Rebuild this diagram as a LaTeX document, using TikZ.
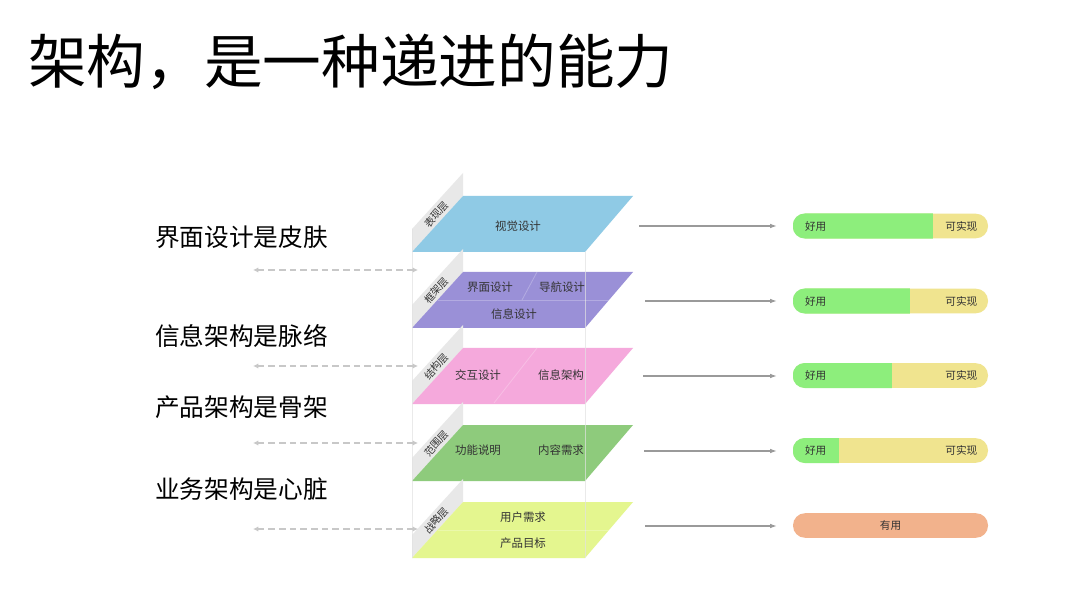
\documentclass[tikz,border=0pt]{standalone}
\usepackage{fontspec}
\setmainfont{Noto Sans CJK SC}
\usetikzlibrary{arrows.meta,calc}
\definecolor{LayerBlue}{HTML}{8FCAE5}
\definecolor{LayerPurple}{HTML}{9A90D7}
\definecolor{LayerPink}{HTML}{F5A9DC}
\definecolor{LayerGreen}{HTML}{8ECB7C}
\definecolor{LayerLime}{HTML}{E4F68F}
\definecolor{SideGray}{HTML}{E8E8E8}
\definecolor{FrameGray}{HTML}{E2E2E2}
\definecolor{FlowGray}{HTML}{9A9A9A}
\definecolor{LinkGray}{HTML}{C8C8C8}
\definecolor{BarGreen}{HTML}{8DEE7C}
\definecolor{BarYellow}{HTML}{F0E48F}
\definecolor{BarOrange}{HTML}{F2B28C}
\definecolor{TextDark}{HTML}{333333}

\begin{document}
\begin{tikzpicture}[x=0.75pt, y=-0.75pt, >=Latex,
    titletext/.style={font=\fontsize{44}{50}\selectfont, anchor=west, inner sep=0pt},
    bigtext/.style={font=\fontsize{18.5}{22}\selectfont, anchor=west, inner sep=0pt},
    layertext/.style={font=\fontsize{8.6}{10}\selectfont, text=TextDark, inner sep=0pt},
    sidetext/.style={font=\fontsize{7.6}{8}\selectfont, text=TextDark, rotate=47.7, inner sep=0pt},
    bartext/.style={font=\fontsize{8}{10}\selectfont, text=TextDark, inner sep=0pt},
    barbase/.style={fill=BarYellow, rounded corners=9pt, minimum width=146.25pt, minimum height=18.4pt, inner sep=0pt},
    flow/.style={-{Latex[length=5pt,width=3.5pt]}, draw=FlowGray, line width=0.8pt, shorten >=12pt},
    link/.style={{Latex[length=4pt,width=4pt]}-{Latex[length=4pt,width=4pt]}, draw=LinkGray, line width=1.3pt, dash pattern=on 5pt off 3pt},
    divider/.style={draw=white, opacity=0.25, line width=0.6pt}]
  \useasboundingbox[fill=white] (0,0) rectangle (1082,595);

  % Title and the four statements on the left
  \node[titletext] (title) at (28,62) {架构，是一种递进的能力};
  \node[bigtext] (skin)  at (155,237)   {界面设计是皮肤};
  \node[bigtext] (vein)  at (155,336)   {信息架构是脉络};
  \node[bigtext] (bone)  at (155,407.5) {产品架构是骨架};
  \node[bigtext] (heart) at (155,489)   {业务架构是心脏};

  % Five stacked planes with their side tabs
  \foreach \i/\t/\col/\side in {1/196/LayerBlue/表现层, 2/272/LayerPurple/框架层,
      3/348/LayerPink/结构层, 4/425/LayerGreen/范围层, 5/502/LayerLime/战略层}{
    \fill[SideGray] (412,\t+33) -- (463,\t-23) -- (463,\t) -- (412,\t+56) -- cycle;
    \fill[\col] (463,\t) -- (633,\t) -- (585,\t+56) -- (412,\t+56) -- cycle;
    \node[sidetext] (side\i) at (436.5,\t+18.5) {\side};
  }
  \draw[FrameGray, opacity=0.7] (412,229) -- (412,558);
  \draw[FrameGray, opacity=0.7] (585,252) -- (585,558);

  % Splits inside the planes
  \draw[divider] (437.5,300) -- (609,300);
  \draw[divider] (537,272) -- (522,300);
  \draw[divider] (537,348) -- (494,403);
  \draw[divider] (437.5,530) -- (609,530);

  \node[layertext] (visual) at (518,226) {视觉设计};
  \node[layertext] (ui)     at (490,287) {界面设计};
  \node[layertext] (nav)    at (562,287) {导航设计};
  \node[layertext] (info)   at (514,314) {信息设计};
  \node[layertext] (inter)  at (478,375) {交互设计};
  \node[layertext] (ia)     at (561,375) {信息架构};
  \node[layertext] (func)   at (478,450) {功能说明};
  \node[layertext] (content) at (561,450) {内容需求};
  \node[layertext] (user)   at (523,517) {用户需求};
  \node[layertext] (goal)   at (523,543) {产品目标};

  % Bars on the right: how far each plane gets
  \foreach \i/\y/\g in {1/226/933, 2/301/910, 3/375.5/892, 4/450.5/839}{
    \node[barbase] (bar\i) at (890.5,\y) {};
    \begin{scope}
      \clip[rounded corners=9pt] (bar\i.north west) rectangle (bar\i.south east);
      \fill[BarGreen] (bar\i.north west) rectangle (\g,\y+13);
    \end{scope}
    \node[bartext, anchor=west] (good\i) at ([xshift=9pt]bar\i.west) {好用};
    \node[bartext, anchor=east] (real\i) at ([xshift=-8pt]bar\i.east) {可实现};
  }
  \node[barbase, fill=BarOrange] (bar5) at (890.5,525.5) {};
  \node[bartext] (useful) at (bar5) {有用};

  % Connectors
  \coordinate (out1) at (639,226);
  \coordinate (out2) at (645,301);
  \coordinate (out3) at (643,376);
  \coordinate (out4) at (644,451);
  \coordinate (out5) at (645,526);
  \foreach \i in {1,...,5}{
    \draw[flow] (out\i) -- (out\i -| bar\i.west);
  }
  \foreach \i/\y in {1/270, 2/366, 3/443, 4/529}{
    \coordinate (la\i) at (253,\y);
    \coordinate (lb\i) at (418,\y);
    \draw[link] (la\i) -- (lb\i);
  }
\end{tikzpicture}
\end{document}
